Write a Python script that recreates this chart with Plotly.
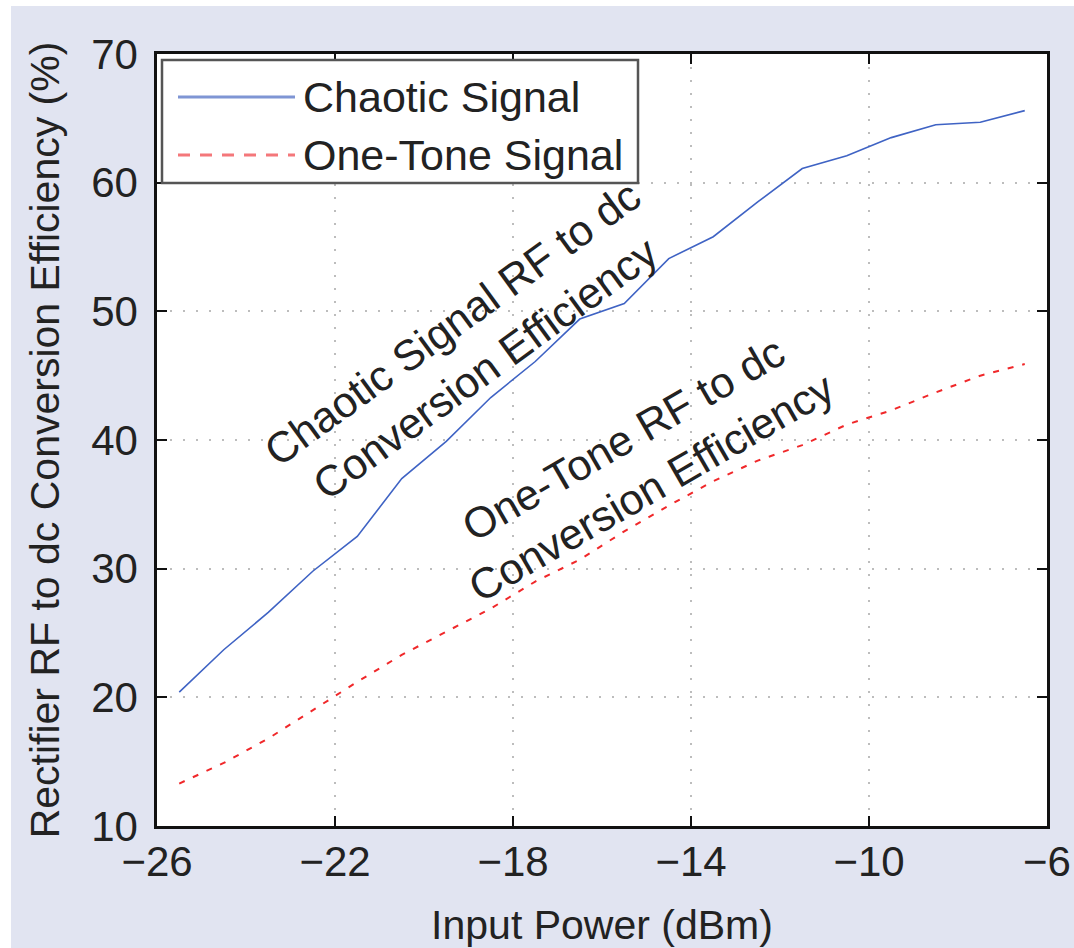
import plotly.graph_objects as go

# Input power sweep (dBm)
power_dbm = [-25.5, -24.5, -23.5, -22.5, -21.5, -20.5, -19.5, -18.5, -17.5, -16.5,
             -15.5, -14.5, -13.5, -12.5, -11.5, -10.5, -9.5, -8.5, -7.5, -6.5]

# RF-to-dc conversion efficiency (%)
chaotic_eff = [20.4, 23.7, 26.6, 29.8, 32.5, 37.0, 39.9, 43.3, 46.1, 49.4,
               50.6, 54.1, 55.8, 58.5, 61.1, 62.1, 63.5, 64.5, 64.7, 65.6]
one_tone_eff = [13.3, 14.9, 16.8, 19.0, 21.2, 23.3, 25.1, 26.9, 29.0, 30.7,
                32.9, 34.9, 36.8, 38.4, 39.6, 41.2, 42.3, 43.7, 45.0, 45.9]

x_ticks = [-26, -22, -18, -14, -10, -6]
y_ticks = [10, 20, 30, 40, 50, 60, 70]

series_names = ["Chaotic Signal", "One-Tone Signal"]
curve_labels = ["Chaotic Signal RF to dc<br>Conversion Efficiency",
                "One-Tone RF to dc<br>Conversion Efficiency"]

FONT = "Liberation Sans, Arial, Helvetica, sans-serif"
TXT = "#222222"
BLUE = "#3f63c4"
RED = "#f0282a"
BG = "#e1e4f1"

W, H = 1074, 948
ML, MR, MT, MB = 157, 27, 54, 122
PW, PH = W - ML - MR, H - MT - MB

fig = go.Figure()
fig.add_trace(go.Scatter(x=power_dbm, y=chaotic_eff, mode="lines",
                         line=dict(color=BLUE, width=1.6), showlegend=False,
                         name=series_names[0]))
fig.add_trace(go.Scatter(x=power_dbm, y=one_tone_eff, mode="lines",
                         line=dict(color=RED, width=2, dash="6px,9px"),
                         showlegend=False, name=series_names[1]))

# Hand-built legend box (paper coordinates of the plot area)
def px_x(px):
    return (px - ML) / PW

def px_y(py):
    return 1 - (py - MT) / PH

shapes = []
# white margin strips along the top and left edges of the page
shapes.append(dict(type="rect", xref="paper", yref="paper", layer="below",
                   x0=px_x(0), x1=px_x(11), y0=px_y(H), y1=px_y(0),
                   fillcolor="white", line=dict(width=0)))
shapes.append(dict(type="rect", xref="paper", yref="paper", layer="below",
                   x0=px_x(0), x1=px_x(W), y0=px_y(6), y1=px_y(0),
                   fillcolor="white", line=dict(width=0)))
# legend frame
shapes.append(dict(type="rect", xref="paper", yref="paper",
                   x0=px_x(162), x1=px_x(638), y0=px_y(183), y1=px_y(60),
                   fillcolor="white", line=dict(color="#555555", width=2.5)))
# legend samples
shapes.append(dict(type="line", xref="paper", yref="paper",
                   x0=px_x(178), x1=px_x(295), y0=px_y(97), y1=px_y(97),
                   line=dict(color="#7f95d4", width=3)))
shapes.append(dict(type="line", xref="paper", yref="paper",
                   x0=px_x(178), x1=px_x(295), y0=px_y(155), y1=px_y(155),
                   line=dict(color="#f4777a", width=3, dash="12px,10px")))

annotations = [
    dict(xref="paper", yref="paper", x=px_x(301), y=px_y(97),
         xanchor="left", yanchor="middle", showarrow=False,
         text=series_names[0], font=dict(family=FONT, size=43, color=TXT)),
    dict(xref="paper", yref="paper", x=px_x(301), y=px_y(155),
         xanchor="left", yanchor="middle", showarrow=False,
         text=series_names[1], font=dict(family=FONT, size=43, color=TXT)),
    dict(x=-19.0, y=47.3, xref="x", yref="y", showarrow=False,
         text=curve_labels[0], textangle=-36,
         font=dict(family=FONT, size=43, color=TXT)),
    dict(x=-15.2, y=38.2, xref="x", yref="y", showarrow=False,
         text=curve_labels[1], textangle=-30,
         font=dict(family=FONT, size=43, color=TXT)),
]

axis_common = dict(
    showline=True, linecolor="#111111", linewidth=2.5, mirror="ticks",
    ticks="inside", ticklen=10, tickwidth=2, tickcolor="#111111",
    showgrid=True, gridcolor="#bdbdbd", gridwidth=1.5, griddash="2px,11px",
    zeroline=False,
    tickfont=dict(family=FONT, size=42, color=TXT),
)

fig.update_xaxes(range=[-26, -6], tickvals=x_ticks, ticklabelstandoff=-3,
                 title=dict(text="Input Power (dBm)", standoff=29,
                            font=dict(family=FONT, size=41, color=TXT)),
                 **axis_common)
fig.update_yaxes(range=[10, 70], tickvals=y_ticks, ticklabelstandoff=8,
                 title=dict(text="Rectifier RF to dc Conversion Efficiency (%)",
                            standoff=19,
                            font=dict(family=FONT, size=41, color=TXT)),
                 **axis_common)

fig.update_layout(
    width=W, height=H,
    margin=dict(l=ML, r=MR, t=MT, b=MB, autoexpand=False),
    paper_bgcolor=BG, plot_bgcolor="white",
    shapes=shapes, annotations=annotations,
    font=dict(family=FONT, color=TXT),
)

fig.write_html("out.html", config={"displayModeBar": False})
